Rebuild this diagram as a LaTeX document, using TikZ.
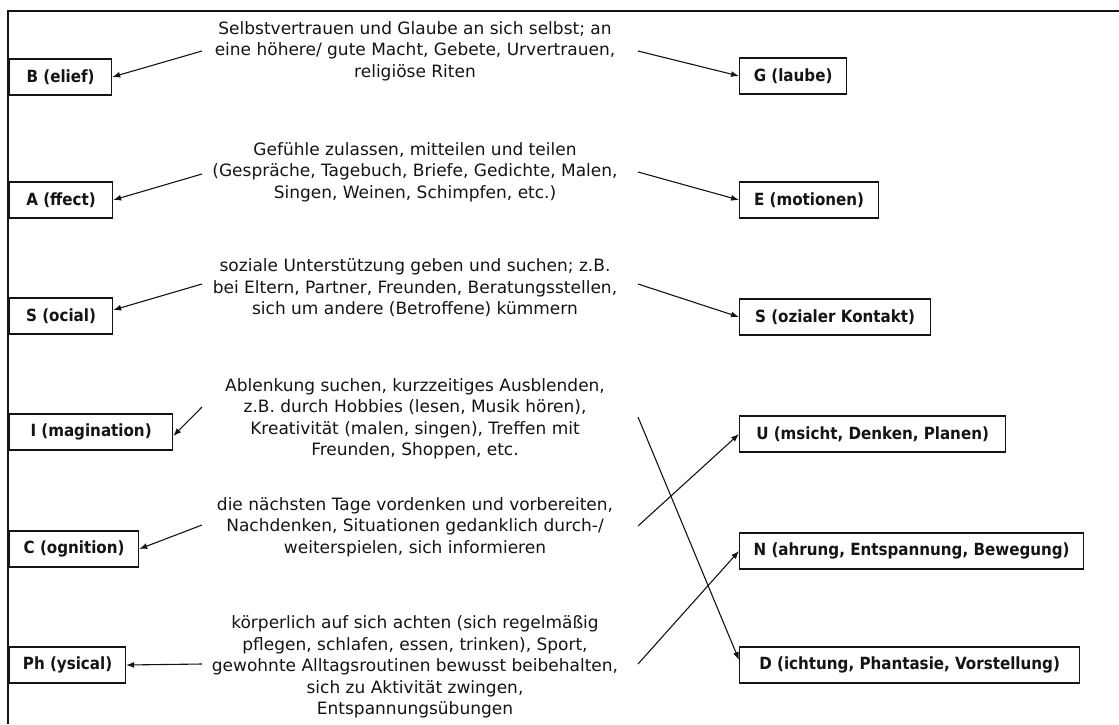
\documentclass[tikz,border=0pt]{standalone}
\usepackage{fontspec}
\setmainfont{DejaVu Sans}
\newfontfamily\keyfont{DejaVu Sans Condensed}
\usetikzlibrary{arrows.meta}
\definecolor{ink}{RGB}{20,20,20}
\begin{document}
\begin{tikzpicture}[x=1pt,y=-1pt,
  every node/.style={text=ink},
  keybox/.style={draw=ink, line width=1.2pt, anchor=west,
    minimum width=#1, minimum height=36pt, inner xsep=0pt,
    font=\keyfont\bfseries\fontsize{16.8}{19}\selectfont},
  desc/.style={align=center, inner sep=0pt,
    font=\fontsize{17}{21.5}\selectfont},
  arr/.style={draw=ink, line width=1.1pt, -{Latex[length=8pt,width=6pt]}}]
\useasboundingbox (0,0) rectangle (1119,724);
% open frame (top and left sides)
\draw[ink, line width=1.5pt] (8,724) -- (8,11) -- (1119,11);

% left column
\node[keybox=102pt] (B)  at (9,77)  {B (elief)};
\node[keybox=103pt] (A)  at (9,200) {A (ffect)};
\node[keybox=103pt] (S)  at (9,316) {S (ocial)};
\node[keybox=163pt] (I)  at (9,432) {I (magination)};
\node[keybox=129pt] (C)  at (9,549) {C (ognition)};
\node[keybox=116pt] (Ph) at (9,665) {Ph (ysical)};

% right column
\node[keybox=107pt] (G)  at (739,76)  {G (laube)};
\node[keybox=139pt] (E)  at (739,200) {E (motionen)};
\node[keybox=191pt] (SK) at (739,317) {S (ozialer Kontakt)};
\node[keybox=266pt] (U)  at (739,434) {U (msicht, Denken, Planen)};
\node[keybox=344pt] (N)  at (739,551) {N (ahrung, Entspannung, Bewegung)};
\node[keybox=340pt] (D)  at (739,665) {D (ichtung, Phantasie, Vorstellung)};

% descriptions
\node[desc] (tB) at (415,51) {Selbstvertrauen und Glaube an sich selbst; an\\eine höhere/ gute Macht, Gebete, Urvertrauen,\\religiöse Riten};
\node[desc] (tA) at (415,172) {Gefühle zulassen, mitteilen und teilen\\(Gespräche, Tagebuch, Briefe, Gedichte, Malen,\\Singen, Weinen, Schimpfen, etc.)};
\node[desc] (tS) at (415,288) {soziale Unterstützung geben und suchen; z.B.\\bei Eltern, Partner, Freunden, Beratungsstellen,\\sich um andere (Betroffene) kümmern};
\node[desc] (tI) at (415,419) {Ablenkung suchen, kurzzeitiges Ausblenden,\\z.B. durch Hobbies (lesen, Musik hören),\\Kreativität (malen, singen), Treffen mit\\Freunden, Shoppen, etc.};
\node[desc] (tC) at (415,527) {die nächsten Tage vordenken und vorbereiten,\\Nachdenken, Situationen gedanklich durch-/\\weiterspielen, sich informieren};
\node[desc] (tP) at (415,667) {körperlich auf sich achten (sich regelmäßig\\pflegen, schlafen, essen, trinken), Sport,\\gewohnte Alltagsroutinen bewusst beibehalten,\\sich zu Aktivität zwingen,\\Entspannungsübungen};

% arrow start points beside the descriptions
\coordinate (bL) at (202,51);   \coordinate (bR) at (638,51);
\coordinate (aL) at (202,174);  \coordinate (aR) at (638,172);
\coordinate (sL) at (202,284);  \coordinate (sR) at (638,284);
\coordinate (iL) at (202,407);  \coordinate (iR) at (638,417);
\coordinate (cL) at (202,525);  \coordinate (cR) at (638,526);
\coordinate (pL) at (202,664);  \coordinate (pR) at (638,664);

\draw[arr] (bL) -- (B.east);
\draw[arr] (bR) -- (G.west);
\draw[arr] (aL) -- (A.east);
\draw[arr] (aR) -- (E.west);
\draw[arr] (sL) -- ([yshift=6pt]S.east);
\draw[arr] (sR) -- (SK.west);
\draw[arr] (iL) -- ([yshift=-4pt]I.east);
\draw[arr] (iR) -- ([yshift=5pt]D.west);
\draw[arr] (cL) -- (C.east);
\draw[arr] (cR) -- (U.west);
\draw[arr] (pL) -- (Ph.east);
\draw[arr] (pR) -- (N.west);
\end{tikzpicture}
\end{document}
